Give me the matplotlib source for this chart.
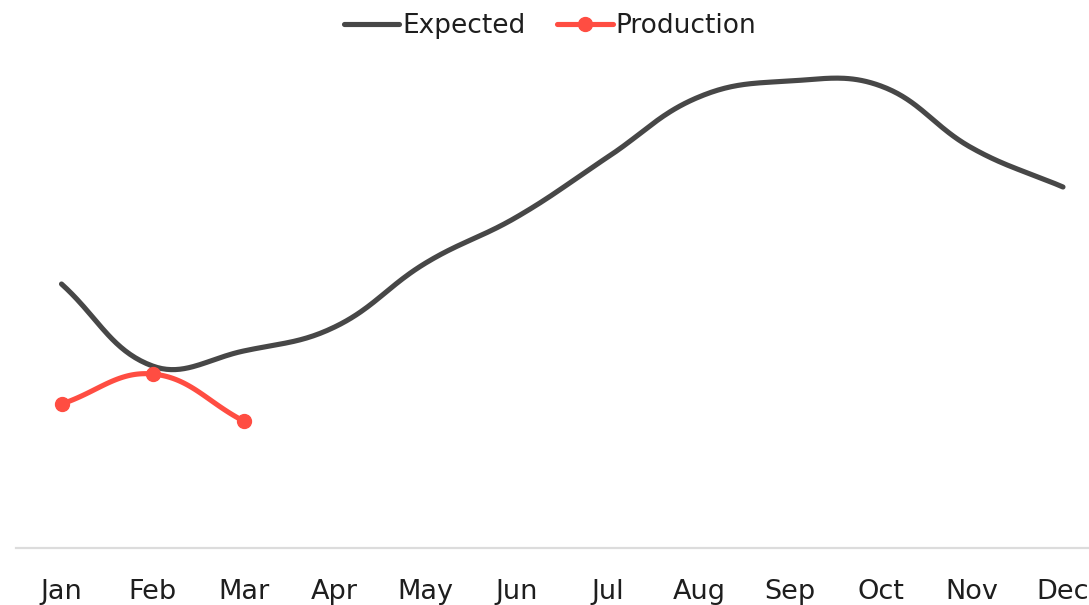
import numpy as np
import matplotlib
matplotlib.use("Agg")
import matplotlib.pyplot as plt
from matplotlib.lines import Line2D

# Data
months = ["Jan", "Feb", "Mar", "Apr", "May", "Jun", "Jul", "Aug", "Sep", "Oct", "Nov", "Dec"]
expected = [264, 182, 197, 221, 285, 331, 391, 451, 467, 462, 400, 361]
production = [144, 174, 127]

EXP_COLOR = "#474747"
PROD_COLOR = "#ff4d42"
TEXT_COLOR = "#1e1e1e"

plt.rcParams["font.family"] = ["DejaVu Sans"]


## Chart.js style bezier spline, control points computed in display space
def spline_points(ax, xs, ys, tension=0.4, steps=40):
    pts = ax.transData.transform(np.column_stack([xs, ys]))
    n = len(pts)
    cp_prev, cp_next = [], []
    for i in range(n):
        prev = pts[i - 1] if i > 0 else pts[i]
        nxt = pts[i + 1] if i < n - 1 else pts[i]
        cur = pts[i]
        d01 = np.hypot(*(cur - prev))
        d12 = np.hypot(*(nxt - cur))
        s01 = d01 / (d01 + d12) if d01 + d12 else 0
        s12 = d12 / (d01 + d12) if d01 + d12 else 0
        cp_prev.append(cur - tension * s01 * (nxt - prev))
        cp_next.append(cur + tension * s12 * (nxt - prev))
    t = np.linspace(0, 1, steps)[:, None]
    out = [pts[:1]]
    for i in range(n - 1):
        p0, p1, p2, p3 = pts[i], cp_next[i], cp_prev[i + 1], pts[i + 1]
        seg = ((1 - t) ** 3) * p0 + 3 * ((1 - t) ** 2) * t * p1 + 3 * (1 - t) * t ** 2 * p2 + t ** 3 * p3
        out.append(seg[1:])
    out = np.vstack(out)
    return ax.transData.inverted().transform(out)


fig = plt.figure(figsize=(10.89, 6.05), dpi=100)
ax = fig.add_axes([16 / 1089, 57 / 605, 1 - 16 / 1089, 500 / 605])
ax.set_xlim(-0.5, 11 + 26 / 91)
ax.set_ylim(0, 500)

x_exp = np.arange(len(expected))
x_prod = np.arange(len(production))

curve = spline_points(ax, x_exp, expected)
ax.plot(curve[:, 0], curve[:, 1], color=EXP_COLOR, lw=3.7, solid_capstyle="round", zorder=3)

curve = spline_points(ax, x_prod, production)
ax.plot(curve[:, 0], curve[:, 1], color=PROD_COLOR, lw=3.7, solid_capstyle="round", zorder=4)
ax.plot(x_prod, production, "o", color=PROD_COLOR, markersize=10, zorder=5)

# Axes styling
for side in ["left", "right", "top"]:
    ax.spines[side].set_visible(False)
ax.spines["bottom"].set_color("#dcdcdc")
ax.spines["bottom"].set_linewidth(1.6)
ax.set_yticks([])
ax.set_xticks(x_exp)
ax.set_xticklabels(months)
ax.tick_params(axis="x", length=0, pad=22.5, labelsize=19.5, labelcolor=TEXT_COLOR)

# Legend
handles = [
    Line2D([], [], color=EXP_COLOR, lw=3.7, solid_capstyle="round"),
    Line2D([], [], color=PROD_COLOR, lw=3.7, marker="o", markersize=10, solid_capstyle="round"),
]
fig.legend(handles, ["Expected", "Production"], loc="upper center", bbox_to_anchor=(550 / 1089, 1.018),
           ncol=2, frameon=False, fontsize=19, handlelength=2.1, handletextpad=0.12,
           columnspacing=1.2, labelcolor=TEXT_COLOR)

fig.savefig("out.png", dpi=100)
